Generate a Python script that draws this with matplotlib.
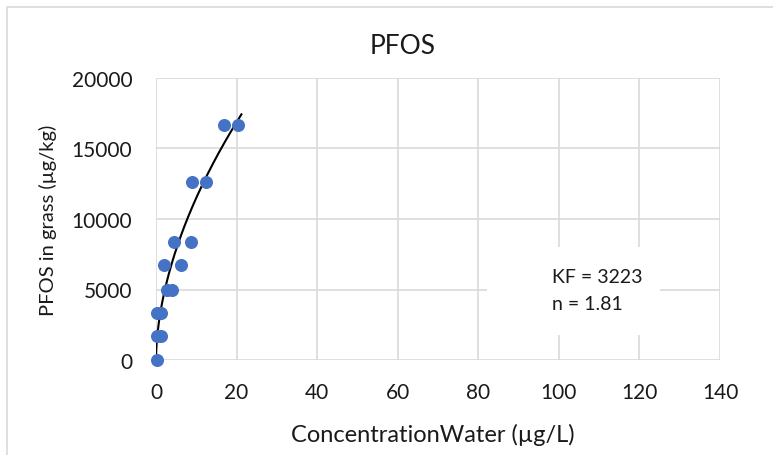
# PFOS sorption in grass - Freundlich fit
import numpy as np
import matplotlib.pyplot as plt
from matplotlib.patches import Rectangle

plt.rcParams['font.family'] = ['Lato', 'DejaVu Sans']

conc_water = [0.2, 0.3, 1.2, 0.3, 1.3, 2.7, 4.0, 2.1, 6.1, 4.5, 8.7, 8.9, 12.3, 16.9, 20.4]
pfos_grass = [0, 1700, 1700, 3350, 3350, 5000, 5000, 6770, 6770, 8400, 8370, 12600, 12600, 16700, 16650]

# Freundlich parameters
KF = 3223
n = 1.81
x_fit_max = 21.2

x_ticks = [0, 20, 40, 60, 80, 100, 120, 140]
y_ticks = [0, 5000, 10000, 15000, 20000]

fig = plt.figure(figsize=(7.73, 4.56), dpi=100)
# chart area border
fig.patches.append(Rectangle((7 / 773, -0.1), 1.2, 1 - 8 / 456 + 0.1, transform=fig.transFigure,
                             fill=False, edgecolor='#d9d9d9', linewidth=1.2))

ax = fig.add_axes([156 / 773, 1 - 361 / 456, 564 / 773, 282 / 456])

x_grid = np.linspace(0, x_fit_max, 300)
ax.plot(x_grid, KF * x_grid ** (1 / n), color='black', linewidth=1.5, zorder=3)
ax.scatter(conc_water, pfos_grass, s=70, color='#4472c4', zorder=4, clip_on=False)

ax.set_xlim(0, 140)
ax.set_ylim(0, 20000)
ax.set_xticks(x_ticks)
ax.set_yticks(y_ticks)
ax.grid(True, color='#d9d9d9', linewidth=1.2)
ax.set_axisbelow(True)
for s in ax.spines.values():
    s.set_visible(False)
ax.tick_params(length=0, labelsize=15, labelcolor='#1a1a1a')
ax.tick_params(axis='x', pad=16)
ax.tick_params(axis='y', pad=17)

fig.text(403 / 773, 1 - 46 / 456, 'PFOS', fontsize=19, ha='center', va='center', color='#1a1a1a')
ax.set_xlabel('ConcentrationWater (µg/L)', fontsize=17, color='#1a1a1a')
ax.set_ylabel('PFOS in grass (µg/kg)', fontsize=14.5, color='#1a1a1a')
ax.xaxis.set_label_coords(0.491, -0.262)
ax.xaxis.label.set_va('center')
ax.yaxis.set_label_coords(-0.1915, 0.5)
ax.yaxis.label.set_va('center')

# white text box hiding the grid behind the fit parameters
ax.add_patch(Rectangle((82.1, 1800), 43, 6200, facecolor='white', edgecolor='none', zorder=2))
ax.text(98.3, 4960, 'KF = 3223\nn = 1.81', fontsize=14, linespacing=1.75,
        va='center', ha='left', color='#1a1a1a', zorder=5)

fig.savefig('out.png', dpi=100)
